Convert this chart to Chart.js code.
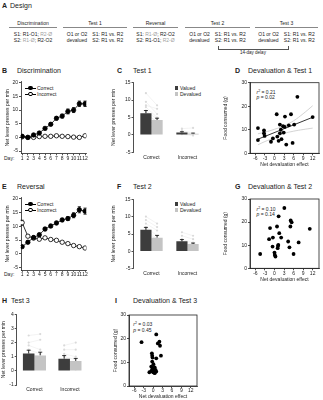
<!DOCTYPE html>
<html>
<head>
<meta charset="utf-8">
<script src="https://cdn.jsdelivr.net/npm/chart.js@4.4.1/dist/chart.umd.min.js"></script>
<style>
html, body { margin: 0; padding: 0; background: #fff; }
body { width: 323px; height: 400px; position: relative; overflow: hidden;
       font-family: "Liberation Sans", Arial, sans-serif; color: #222; }
canvas { position: absolute; }
.t { position: absolute; white-space: nowrap; line-height: 1; font-size: 5px; color: #222; }
.h { font-size: 7px; }
.b { font-weight: bold; }
.g { color: #a0a0a0; }
.col { position: absolute; top: 20.5px; font-size: 5px; line-height: 1; text-align: center; }
.col .hd { border-bottom: 0.8px solid #888; padding-bottom: 1.5px; }
.col .rows { display: flex; justify-content: center; gap: 5px; line-height: 6px; margin-top: 3.2px; text-align: left; white-space: nowrap; }
.ln { position: absolute; height: 0.8px; background: #000; }
.dot { position: absolute; border-radius: 50%; box-sizing: border-box; }
.sq { position: absolute; width: 3.2px; height: 3.2px; }
sup { font-size: 3.5px; vertical-align: 1.8px; }
</style>
</head>
<body>

<!-- A: design -->
<div class="t h b" style="left:2px;top:2px">A</div>
<div class="t h" style="left:10px;top:2px">Design</div>

<div class="col" style="left:9px;width:48px">
  <div class="hd">Discrimination</div>
  <div class="rows"><div>S1: R1-O1; <span class="g">R2-Ø</span><br>S2: <span class="g">R1-Ø</span>; R2-O2</div></div>
</div>
<div class="col" style="left:63px;width:64px">
  <div class="hd">Test 1</div>
  <div class="rows"><div>O1 or O2<br>devalued</div><div>S1: R1 vs. R2<br>S2: R1 vs. R2</div></div>
</div>
<div class="col" style="left:133px;width:45px">
  <div class="hd">Reversal</div>
  <div class="rows"><div>S1: <span class="g">R1-Ø</span>; R2-O2<br>S2: R1-O1; <span class="g">R2-Ø</span></div></div>
</div>
<div class="col" style="left:185px;width:65px">
  <div class="hd">Test 2</div>
  <div class="rows"><div>O1 or O2<br>devalued</div><div>S1: R1 vs. R2<br>S2: R1 vs. R2</div></div>
</div>
<div class="col" style="left:255px;width:63px">
  <div class="hd">Test 3</div>
  <div class="rows"><div>O1 or O2<br>devalued</div><div>S1: R1 vs. R2<br>S2: R1 vs. R2</div></div>
</div>
<div style="position:absolute;left:218px;top:45.5px;width:68.5px;height:3.5px;border:0.8px solid #555;border-top:none"></div>
<div class="t" style="left:218px;width:70px;text-align:center;top:51px;font-size:4.5px">14-day delay</div>

<!-- panel titles -->
<div class="t h b" style="left:2px;top:66.5px">B</div>
<div class="t h" style="left:17px;top:66.5px">Discrimination</div>
<div class="t h b" style="left:117px;top:66.5px">C</div>
<div class="t h" style="left:133px;top:66.5px">Test 1</div>
<div class="t h b" style="left:235px;top:66.5px">D</div>
<div class="t h" style="left:248px;top:66.5px">Devaluation &amp; Test 1</div>

<div class="t h b" style="left:2px;top:183px">E</div>
<div class="t h" style="left:17px;top:183px">Reversal</div>
<div class="t h b" style="left:117px;top:183px">F</div>
<div class="t h" style="left:133px;top:183px">Test 2</div>
<div class="t h b" style="left:235px;top:183px">G</div>
<div class="t h" style="left:248px;top:183px">Devaluation &amp; Test 2</div>

<div class="t h b" style="left:2px;top:297px">H</div>
<div class="t h" style="left:11px;top:297px">Test 3</div>
<div class="t h b" style="left:115px;top:297px">I</div>
<div class="t h" style="left:133px;top:297px">Devaluation &amp; Test 3</div>

<!-- legends -->
<div class="ln" style="left:25px;top:87.6px;width:11px"></div>
<div class="dot" style="left:28.3px;top:85.8px;width:4.4px;height:4.4px;background:#000"></div>
<div class="t" style="left:37px;top:85.5px">Correct</div>
<div class="ln" style="left:25px;top:93.6px;width:11px"></div>
<div class="dot" style="left:28.3px;top:91.8px;width:4.4px;height:4.4px;background:#fff;border:0.8px solid #000"></div>
<div class="t" style="left:37px;top:91.5px">Incorrect</div>

<div class="ln" style="left:25px;top:203.6px;width:11px"></div>
<div class="dot" style="left:28.3px;top:201.8px;width:4.4px;height:4.4px;background:#000"></div>
<div class="t" style="left:37px;top:201.5px">Correct</div>
<div class="ln" style="left:25px;top:209.6px;width:11px"></div>
<div class="dot" style="left:28.3px;top:207.8px;width:4.4px;height:4.4px;background:#fff;border:0.8px solid #000"></div>
<div class="t" style="left:37px;top:207.5px">Incorrect</div>

<div class="sq" style="left:175px;top:86.4px;background:#3d3d3d"></div>
<div class="t" style="left:180px;top:85.5px">Valued</div>
<div class="sq" style="left:175px;top:92.4px;background:#c4c4c4"></div>
<div class="t" style="left:180px;top:91.5px">Devalued</div>

<div class="sq" style="left:175px;top:202.4px;background:#3d3d3d"></div>
<div class="t" style="left:180px;top:201.5px">Valued</div>
<div class="sq" style="left:175px;top:208.4px;background:#c4c4c4"></div>
<div class="t" style="left:180px;top:207.5px">Devalued</div>

<div class="t" style="left:4px;top:155.6px">Day:</div>
<div class="t" style="left:4px;top:272.1px">Day:</div>

<!-- stats -->
<div class="t" style="left:256.5px;top:90px"><i>r</i><sup>2</sup> = 0.21</div>
<div class="t" style="left:256.5px;top:95px"><i>p</i> = 0.02</div>
<div class="t" style="left:256.5px;top:206.5px"><i>r</i><sup>2</sup> = 0.10</div>
<div class="t" style="left:256.5px;top:212px"><i>p</i> = 0.14</div>
<div class="t" style="left:133.3px;top:322px"><i>r</i><sup>2</sup> = 0.03</div>
<div class="t" style="left:133.3px;top:327.5px"><i>p</i> = 0.45</div>

<canvas id="chartB"></canvas>
<canvas id="chartC"></canvas>
<canvas id="chartD"></canvas>
<canvas id="chartE"></canvas>
<canvas id="chartF"></canvas>
<canvas id="chartG"></canvas>
<canvas id="chartH"></canvas>
<canvas id="chartI"></canvas>

<script>
// ---- data ----
const days = [1, 2, 3, 4, 5, 6, 7, 8, 9, 10, 11, 12];

const discCorrect      = [0.4, 0.0, 0.9, 1.6, 3.3, 4.8, 7.0, 7.8, 9.5, 10.0, 12.3, 12.3];
const discCorrectSem   = [0.3, 0.3, 0.4, 0.4, 0.5, 0.5, 0.6, 0.7, 0.9, 0.9, 1.0, 1.0];
const discIncorrect    = [0.2, 0.0, 0.0, 0.3, 0.4, 0.4, 0.6, 0.4, 0.3, 0.1, 0.0, 0.6];
const discIncorrectSem = [0.2, 0.2, 0.2, 0.2, 0.2, 0.2, 0.2, 0.2, 0.2, 0.2, 0.2, 0.2];

const revCorrect      = [2.6, 4.2, 5.9, 6.9, 9.0, 10.1, 11.2, 12.3, 12.8, 14.0, 16.0, 15.5];
const revCorrectSem   = [0.4, 0.5, 0.6, 0.6, 0.6, 0.6, 0.6, 0.6, 0.7, 0.9, 1.1, 1.1];
const revIncorrect    = [11.3, 6.4, 5.7, 5.3, 5.8, 5.2, 4.9, 4.2, 3.7, 3.0, 2.6, 2.1];
const revIncorrectSem = [0.9, 0.5, 0.5, 0.4, 0.4, 0.4, 0.4, 0.3, 0.3, 0.3, 0.3, 0.3];

const groups = ['Correct', 'Incorrect'];

const test1Valued      = [6.2, 0.7];
const test1ValuedSem   = [0.8, 0.2];
const test1Devalued    = [4.3, 0.3];
const test1DevaluedSem = [0.5, 0.2];
const test1ValuedSubj   = [[12.0, 9.5, 8.5, 8.0, 7.0, 6.5, 5.5, 4.5, 4.0, 3.5, 2.5], [1.8, 1.3, 1.0, 0.8, 0.5, 0.2]];
const test1DevaluedSubj = [[8.5, 6.0, 7.5, 5.0, 4.5, 3.5, 4.0, 2.5, 3.0, 1.5, 2.0], [2.0, 0.5, 0.3, 0.0, 0.4, -0.2]];

const test2Valued      = [6.2, 2.9];
const test2ValuedSem   = [0.7, 0.5];
const test2Devalued    = [3.9, 2.1];
const test2DevaluedSem = [0.7, 0.3];
const test2ValuedSubj   = [[10.0, 9.0, 8.0, 7.0, 6.5, 6.0, 5.0, 4.0], [5.5, 4.5, 3.5, 3.0, 2.5, 2.0, 1.0]];
const test2DevaluedSubj = [[8.0, 7.0, 6.0, 4.5, 3.5, 3.0, 2.0, 1.0], [4.5, 3.5, 2.5, 2.0, 1.5, 1.0, 0.5]];

const test3Valued      = [1.23, 0.86];
const test3ValuedSem   = [0.23, 0.22];
const test3Devalued    = [1.09, 0.70];
const test3DevaluedSem = [0.23, 0.18];
const test3ValuedSubj   = [[2.5, 2.0, 1.8, 1.5, 1.2, 1.0, 0.8, 0.5], [1.8, 1.5, 1.2, 1.0, 0.8, 0.5, 0.2]];
const test3DevaluedSubj = [[2.6, 2.2, 1.5, 1.2, 1.0, 0.8, 0.5, 0.3], [2.0, 1.5, 1.0, 0.8, 0.5, 0.3, 0.1]];

const test1Effect = [-5.2, -5.2, -3.3, -3.3, -3.1, -1.1, -0.5, 0.7, 0.9, 1.3, 1.7, 1.7, 2.0, 2.2, 2.7, 2.9, 3.3, 3.2, 3.7, 4.5, 5.2, 5.7, 6.2, 7.2, 12.0];
const test1Food   = [10.7, 5.6, 9.7, 8.5, 7.4, 4.9, 6.3, 16.6, 7.1, 5.3, 8.5, 12.2, 10.0, 6.0, 11.5, 8.8, 15.6, 11.2, 3.7, 11.9, 16.6, 4.4, 12.2, 24.0, 15.4];
const fitX    = [-5.2, 12.0];
const fitY    = [6.0, 15.3];
const ciX     = [-5.2, -3, 0, 3, 6, 9, 12];
const ciUpper = [8.3, 9.0, 10.2, 11.7, 13.8, 16.8, 20.2];
const ciLower = [3.6, 5.0, 6.6, 8.4, 9.4, 10.1, 10.7];

const test2Effect = [-4.5, -1.4, -1.7, -0.5, -0.6, 0.0, 0.1, 0.3, 0.8, 1.1, 1.0, 1.2, 1.3, 1.5, 2.1, 3.1, 4.3, 4.7, 5.1, 5.4, 5.0, 6.0, 7.6, 11.1];
const test2Food   = [6.2, 17.4, 12.6, 13.3, 9.4, 6.8, 5.8, 5.1, 18.1, 9.7, 8.7, 10.1, 22.5, 15.2, 13.3, 26.1, 11.6, 9.1, 20.7, 19.9, 18.1, 6.2, 11.2, 17.1];

const test3Effect = [-3.7, 1.0, 1.5, 2.0, 2.2, 2.5, 1.0, -0.4, -0.3, -0.2, -0.3, 0.1, -0.6, 0.0, 0.5, 0.8, -0.6, -1.2, 0.0, 0.5, 1.0, -0.3, 0.2];
const test3Food   = [18.5, 21.8, 18.0, 18.7, 17.0, 12.8, 11.7, 13.8, 12.8, 12.0, 10.3, 9.2, 8.2, 7.5, 7.9, 6.8, 6.3, 5.8, 5.8, 5.4, 6.1, 7.0, 6.3];

const leverTicks = [-5, 0, 5, 10, 15, 20];
const barTicks   = [-5, 0, 5, 10, 15];
const test3Ticks = [-1, 0, 1, 2, 3, 4];
const foodTicks  = [0, 10, 20, 30];
const effectTicks = [-6, -3, 0, 3, 6, 9, 12];

// ---- defaults ----
Chart.defaults.font.family = '"Liberation Sans", Arial, sans-serif';
Chart.defaults.font.size = 5;
Chart.defaults.color = '#222';
Chart.defaults.animation = false;
Chart.defaults.plugins.legend.display = false;
Chart.defaults.plugins.tooltip.enabled = false;

const INK = '#222';
const DARK = '#3d3d3d';
const LIGHT = '#c4c4c4';

// faint per-animal dots joined valued -> devalued
const subjectDots = {
  id: 'subjectDots',
  beforeDatasetsDraw(chart) {
    const ds = chart.data.datasets;
    if (!ds[0] || !ds[0].subj) return;
    const m0 = chart.getDatasetMeta(0), m1 = chart.getDatasetMeta(1);
    const y = chart.scales.y, ctx = chart.ctx;
    ctx.save();
    ds[0].subj.forEach((vals, j) => {
      vals.forEach((v, k) => {
        const w = ds[1].subj[j][k];
        const x0 = m0.data[j].x, x1 = m1.data[j].x;
        const y0 = y.getPixelForValue(v), y1 = y.getPixelForValue(w);
        ctx.strokeStyle = '#e6e6e6'; ctx.lineWidth = 0.5;
        ctx.beginPath(); ctx.moveTo(x0, y0); ctx.lineTo(x1, y1); ctx.stroke();
        ctx.fillStyle = '#dadada';
        ctx.beginPath(); ctx.arc(x0, y0, 1.1, 0, Math.PI * 2); ctx.fill();
        ctx.beginPath(); ctx.arc(x1, y1, 1.1, 0, Math.PI * 2); ctx.fill();
      });
    });
    ctx.restore();
  }
};

// SEM bars: both ways for lines, upward only for bars
const errorBars = {
  id: 'errorBars',
  beforeDatasetsDraw(chart) {
    const ctx = chart.ctx;
    const isBar = chart.config.type === 'bar';
    chart.data.datasets.forEach((ds, i) => {
      if (!ds.sem) return;
      const meta = chart.getDatasetMeta(i);
      const y = chart.scales[meta.yAxisID];
      const cap = isBar ? 2 : 1.6;
      ctx.save();
      ctx.strokeStyle = '#000';
      ctx.lineWidth = 0.8;
      meta.data.forEach((el, j) => {
        const v = ds.data[j], e = ds.sem[j];
        const top = y.getPixelForValue(v + e);
        const bot = isBar ? el.y : y.getPixelForValue(v - e);
        ctx.beginPath();
        ctx.moveTo(el.x, top); ctx.lineTo(el.x, bot);
        ctx.moveTo(el.x - cap, top); ctx.lineTo(el.x + cap, top);
        if (!isBar) { ctx.moveTo(el.x - cap, bot); ctx.lineTo(el.x + cap, bot); }
        ctx.stroke();
      });
      ctx.restore();
    });
  }
};

// box round the scatter plots
const frame = {
  id: 'frame',
  afterDatasetsDraw(chart, args, opts) {
    if (!opts.display) return;
    const a = chart.chartArea, ctx = chart.ctx;
    ctx.save();
    ctx.strokeStyle = INK; ctx.lineWidth = 0.8;
    ctx.strokeRect(a.left, a.top, a.right - a.left, a.bottom - a.top);
    ctx.restore();
  }
};

Chart.register(subjectDots, errorBars, frame);

// put a canvas so that its chart area lands on box L,T,R,B
function makeChart(id, box, cfg) {
  const cv = document.getElementById(id);
  const left = Math.floor(box.L - box.yw);
  const top = Math.floor(box.T - box.pt);
  const right = Math.ceil(box.R + box.pr);
  const bottom = Math.ceil(box.B + box.xh);
  cv.width = right - left;
  cv.height = bottom - top;
  cv.style.left = left + 'px';
  cv.style.top = top + 'px';
  cv.style.width = (right - left) + 'px';
  cv.style.height = (bottom - top) + 'px';
  cfg.options.responsive = false;
  cfg.options.maintainAspectRatio = false;
  cfg.options.layout = { padding: {
    left: box.L - box.yw - left, top: box.T - top,
    right: right - box.R, bottom: bottom - box.B - box.xh } };
  cfg.options.scales.x.afterFit = s => { s.height = box.xh; };
  cfg.options.scales.y.afterFit = s => { s.width = box.yw; };
  return new Chart(cv, cfg);
}

function valueAxis(min, max, tickVals, title, titlePad, tickLen) {
  return {
    min, max,
    border: { color: INK, width: 0.8 },
    grid: { drawOnChartArea: false, tickLength: tickLen, color: INK, lineWidth: 0.8 },
    ticks: { padding: 1, color: INK, font: { size: 5 }, autoSkip: false },
    afterBuildTicks: s => { s.ticks = tickVals.map(v => ({ value: v })); },
    title: { display: true, text: title, color: INK, font: { size: 5 }, padding: { top: titlePad, bottom: 0 } }
  };
}

// ---- B / E: acquisition curves ----
function lineConfig(correct, correctSem, incorrect, incorrectSem) {
  return {
    type: 'line',
    data: {
      labels: days,
      datasets: [{
        label: 'Correct', data: correct, sem: correctSem,
        borderColor: '#000', borderWidth: 0.8, pointRadius: 2.2,
        pointBackgroundColor: '#000', pointBorderColor: '#000', pointBorderWidth: 0.8
      }, {
        label: 'Incorrect', data: incorrect, sem: incorrectSem,
        borderColor: '#000', borderWidth: 0.8, pointRadius: 2.2,
        pointBackgroundColor: '#fff', pointBorderColor: '#000', pointBorderWidth: 0.8
      }]
    },
    options: {
      scales: {
        x: {
          type: 'linear', min: 0.8, max: 12.2,
          border: { color: INK, width: 0.8 },
          grid: { drawOnChartArea: false, tickLength: 1.5, color: INK, lineWidth: 0.8 },
          ticks: { padding: 0, color: INK, font: { size: 5 }, autoSkip: false, maxRotation: 0, minRotation: 0 },
          afterBuildTicks: s => { s.ticks = days.map(v => ({ value: v })); }
        },
        y: valueAxis(-6, 20.35, leverTicks, 'Net lever presses per min', 5, 2)
      }
    }
  };
}

makeChart('chartB', { L: 21, T: 81, R: 88.5, B: 153.8, yw: 21, xh: 8, pt: 4, pr: 2 },
  lineConfig(discCorrect, discCorrectSem, discIncorrect, discIncorrectSem));
makeChart('chartE', { L: 21, T: 197.5, R: 88.5, B: 270.3, yw: 21, xh: 8, pt: 4, pr: 2 },
  lineConfig(revCorrect, revCorrectSem, revIncorrect, revIncorrectSem));

// ---- C / F / H: test bars ----
function barConfig(valued, valuedSem, devalued, devaluedSem, valuedSubj, devaluedSubj, min, max, tickVals, titlePad, catPct) {
  return {
    type: 'bar',
    data: {
      labels: groups,
      datasets: [{
        label: 'Valued', data: valued, sem: valuedSem, subj: valuedSubj,
        backgroundColor: DARK, borderWidth: 0, categoryPercentage: catPct, barPercentage: 1
      }, {
        label: 'Devalued', data: devalued, sem: devaluedSem, subj: devaluedSubj,
        backgroundColor: LIGHT, borderWidth: 0, categoryPercentage: catPct, barPercentage: 1
      }]
    },
    options: {
      scales: {
        x: {
          border: { display: false },
          grid: { display: false, drawTicks: false },
          ticks: { padding: 2, color: INK, font: { size: 5 }, autoSkip: false, maxRotation: 0 }
        },
        y: valueAxis(min, max, tickVals, 'Net lever presses per min', titlePad, 2)
      }
    }
  };
}

makeChart('chartC', { L: 133.5, T: 82.7, R: 205.5, B: 152.3, yw: 23.5, xh: 8, pt: 4.5, pr: 2 },
  barConfig(test1Valued, test1ValuedSem, test1Devalued, test1DevaluedSem, test1ValuedSubj, test1DevaluedSubj, -5, 15, barTicks, 0.5, 0.62));
makeChart('chartF', { L: 133.5, T: 199.2, R: 205.5, B: 268.8, yw: 23.5, xh: 8, pt: 4.5, pr: 2 },
  barConfig(test2Valued, test2ValuedSem, test2Devalued, test2DevaluedSem, test2ValuedSubj, test2DevaluedSubj, -5, 15, barTicks, 0.5, 0.62));
makeChart('chartH', { L: 16.7, T: 314.3, R: 87.7, B: 385, yw: 16.7, xh: 9, pt: 4, pr: 2 },
  barConfig(test3Valued, test3ValuedSem, test3Devalued, test3DevaluedSem, test3ValuedSubj, test3DevaluedSubj, -1, 4, test3Ticks, 0.3, 0.65));

// ---- D / G / I: devaluation vs food ----
function scatterConfig(effect, food, extra, titlePad) {
  const datasets = [{
    type: 'scatter',
    data: effect.map((x, i) => ({ x, y: food[i] })),
    pointRadius: 1.9, pointBackgroundColor: '#000', pointBorderColor: '#000', pointBorderWidth: 0
  }].concat(extra);
  return {
    type: 'scatter',
    data: { datasets },
    options: {
      plugins: { frame: { display: true } },
      scales: {
        x: {
          type: 'linear', min: -7.7, max: 14,
          border: { color: INK, width: 0.8 },
          grid: { drawOnChartArea: false, tickLength: 2, color: INK, lineWidth: 0.8 },
          ticks: { padding: 0, color: INK, font: { size: 5 }, autoSkip: false, maxRotation: 0, minRotation: 0 },
          afterBuildTicks: s => { s.ticks = effectTicks.map(v => ({ value: v })); },
          title: { display: true, text: 'Net devaluation effect', color: INK, font: { size: 5 }, padding: { top: 0, bottom: 0 } }
        },
        y: valueAxis(0, 30, foodTicks, 'Food consumed (g)', titlePad, 2)
      }
    }
  };
}

const fitLines = [{
  type: 'line',
  data: fitX.map((x, i) => ({ x, y: fitY[i] })),
  borderColor: '#000', borderWidth: 0.8, pointRadius: 0
}, {
  type: 'line',
  data: ciX.map((x, i) => ({ x, y: ciUpper[i] })),
  borderColor: '#c8c8c8', borderWidth: 0.8, pointRadius: 0, tension: 0.4
}, {
  type: 'line',
  data: ciX.map((x, i) => ({ x, y: ciLower[i] })),
  borderColor: '#c8c8c8', borderWidth: 0.8, pointRadius: 0, tension: 0.4
}];

makeChart('chartD', { L: 250, T: 82.7, R: 319.5, B: 153.3, yw: 28, xh: 14, pt: 4.7, pr: 3 },
  scatterConfig(test1Effect, test1Food, fitLines, 1));
makeChart('chartG', { L: 250, T: 199, R: 319.5, B: 268.3, yw: 28, xh: 14, pt: 4, pr: 3 },
  scatterConfig(test2Effect, test2Food, [], 1));
makeChart('chartI', { L: 129, T: 315, R: 197.5, B: 386, yw: 18, xh: 14, pt: 4, pr: 3 },
  scatterConfig(test3Effect, test3Food, [], 1.5));
</script>
</body>
</html>
